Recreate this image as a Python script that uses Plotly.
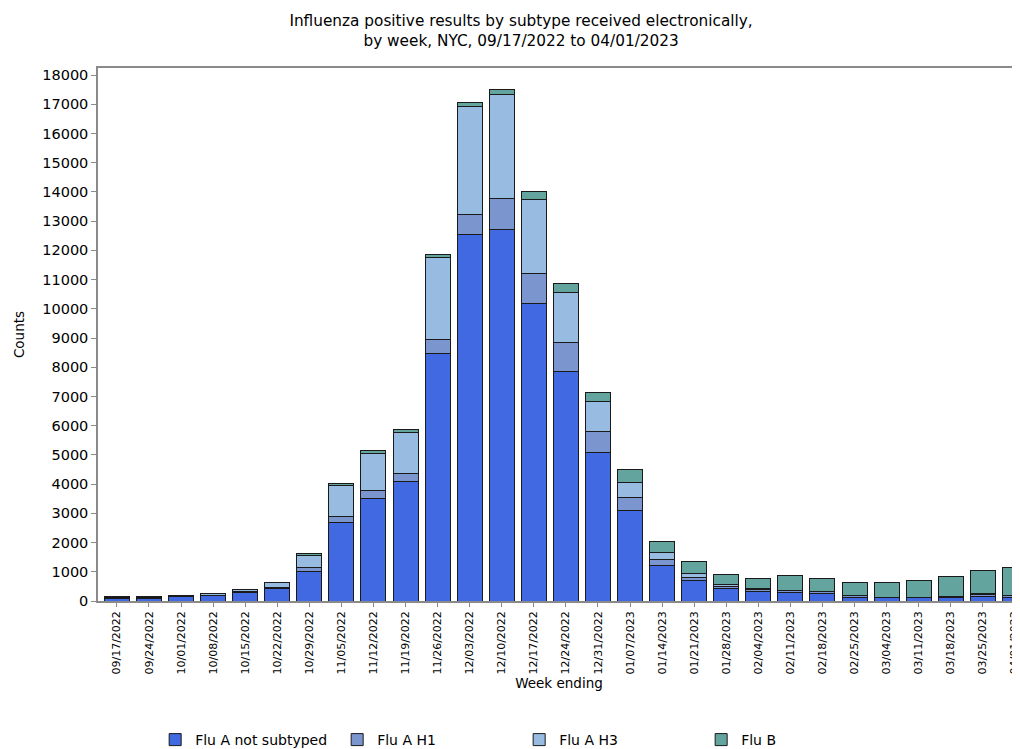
import plotly.graph_objects as go

weeks = ["09/17/2022", "09/24/2022", "10/01/2022", "10/08/2022", "10/15/2022", "10/22/2022",
         "10/29/2022", "11/05/2022", "11/12/2022", "11/19/2022", "11/26/2022", "12/03/2022",
         "12/10/2022", "12/17/2022", "12/24/2022", "12/31/2022", "01/07/2023", "01/14/2023",
         "01/21/2023", "01/28/2023", "02/04/2023", "02/11/2023", "02/18/2023", "02/25/2023",
         "03/04/2023", "03/11/2023", "03/18/2023", "03/25/2023", "04/01/2023"]

flu_a_not_subtyped = [80, 100, 150, 180, 285, 440, 1020, 2693, 3515, 4073, 8476, 12550,
                      12721, 10189, 7837, 5089, 3104, 1232, 708, 422, 335, 274, 251, 127,
                      110, 115, 115, 160, 130]
flu_a_h1 = [30, 30, 15, 15, 30, 30, 130, 190, 250, 274, 480, 684,
            1037, 1027, 1016, 705, 421, 200, 103, 81, 60, 72, 70, 45,
            10, 8, 35, 50, 50]
flu_a_h3 = [20, 20, 20, 60, 85, 165, 420, 1070, 1290, 1427, 2794, 3696,
            3559, 2532, 1712, 1027, 537, 235, 137, 68, 40, 20, 20, 20,
            8, 5, 20, 30, 15]
flu_b = [10, 10, 10, 10, 10, 15, 40, 70, 100, 80, 100, 137,
         195, 273, 308, 321, 445, 386, 410, 353, 352, 500, 445, 435,
         522, 582, 675, 810, 945]

series = [
    ("Flu A not subtyped", flu_a_not_subtyped, "#4169E1"),
    ("Flu A H1", flu_a_h1, "#7B96CE"),
    ("Flu A H3", flu_a_h3, "#98BCE1"),
    ("Flu B", flu_b, "#63A59E"),
]

y_ticks = list(range(0, 18001, 1000))

font_family = "DejaVu Sans, Liberation Sans, sans-serif"

W, H = 1012, 741

fig = go.Figure()
for name, vals, color in series:
    fig.add_trace(go.Bar(
        x=weeks, y=vals, name=name,
        marker=dict(color=color, line=dict(color="#1a1a1a", width=1)),
        width=0.78,
    ))

fig.update_layout(
    width=W, height=H,
    barmode="stack",
    paper_bgcolor="white", plot_bgcolor="white",
    font=dict(family=font_family, size=12, color="black"),
    margin=dict(l=90, r=0, t=60, b=148, autoexpand=False),
    title=dict(
        text="Influenza positive results by subtype received electronically,<br>by week, NYC, 09/17/2022 to 04/01/2023",
        x=0.507, xanchor="center", y=1 - 18 / H, yanchor="top",
        font=dict(size=15.3, family=font_family),
    ),
    xaxis=dict(
        type="category",
        range=[-0.59, 28.16],
        tickangle=-90,
        tickfont=dict(size=11),
        ticklabeloverflow="allow",
        automargin=False,
        showline=True, linecolor="#8a8a8a", linewidth=1.5,
        mirror=True,
        ticks="outside", ticklen=4, tickcolor="#8a8a8a",
        title=dict(text="Week ending", font=dict(size=13.5), standoff=4),
    ),
    yaxis=dict(
        range=[0, 18240],
        tickvals=y_ticks,
        ticktext=[str(v) for v in y_ticks],
        tickfont=dict(size=14.5),
        automargin=False,
        showgrid=False, zeroline=False,
        showline=True, linecolor="#8a8a8a", linewidth=1.5,
        mirror=True,
        ticks="outside", ticklen=5, tickcolor="#8a8a8a",
        title=dict(text="Counts", font=dict(size=13.5), standoff=14),
    ),
    legend=dict(
        orientation="h",
        x=0.062, xanchor="left",
        yref="paper", y=-139 / 533, yanchor="middle",
        entrywidth=137, entrywidthmode="pixels",
        itemwidth=30,
        font=dict(size=14),
        traceorder="normal",
    ),
    bargap=0.22,
)

fig.write_html("out.html")
